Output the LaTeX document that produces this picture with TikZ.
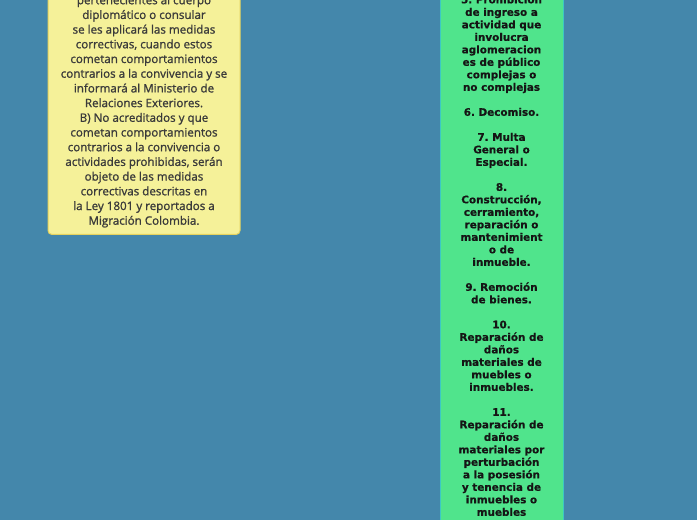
\documentclass[tikz,border=0pt]{standalone}
\usepackage{fontspec}
\newfontfamily\notafont[FakeBold=1.2]{Open Sans}
\newfontfamily\listafont[BoldFeatures={FakeBold=0.6}]{DejaVu Sans}
\definecolor{fondo}{HTML}{4487AB}
\definecolor{notafill}{HTML}{F5F199}
\definecolor{notaborde}{HTML}{E6D35E}
\definecolor{notatexto}{HTML}{3A3A3A}
\definecolor{listafill}{HTML}{50E48C}
\definecolor{listaborde}{HTML}{3CC8C4}
\definecolor{listatexto}{HTML}{151515}
\frenchspacing
\begin{document}
\begin{tikzpicture}[x=1pt,y=1pt,
	nota/.style={draw=notaborde,fill=notafill,line width=1pt,rounded corners=4pt,
		align=center,text=notatexto,minimum width=192pt,inner ysep=7pt,
		font=\notafont\fontsize{11.6}{14.7}\selectfont},
	lista/.style={draw=listaborde,fill=listafill,line width=1pt,
		align=center,text=listatexto,minimum width=123pt,inner ysep=8pt,
		font=\listafont\bfseries\fontsize{10.4}{12.5}\selectfont}]
	\useasboundingbox (0,0) rectangle (697,520);
	\clip (0,0) rectangle (697,520);
	\fill[fondo] (0,0) rectangle (697,520);
	
	\node[nota,anchor=south] (D) at (144,285) {pertenecientes al cuerpo\\
		diplomático o consular\\
		se les aplicará las medidas\\
		correctivas, cuando estos\\
		cometan comportamientos\\
		contrarios a la convivencia y se\\
		informará al Ministerio de\\
		Relaciones Exteriores.\\
		B) No acreditados y que\\
		cometan comportamientos\\
		contrarios a la convivencia o\\
		actividades prohibidas, serán\\
		objeto de las medidas\\
		correctivas descritas en\\
		la Ley 1801 y reportados a\\
		Migración Colombia.};
	
	\node[lista,anchor=north] (M) at (501.5,533.5) {5. Prohibición\\
		de ingreso a\\
		actividad que\\
		involucra\\
		aglomeracion\\
		es de público\\
		complejas o\\
		no complejas\\[12.5pt]
		6. Decomiso.\\[12.5pt]
		7. Multa\\
		General o\\
		Especial.\\[12.5pt]
		8.\\
		Construcción,\\
		cerramiento,\\
		reparación o\\
		mantenimient\\
		o de\\
		inmueble.\\[12.5pt]
		9. Remoción\\
		de bienes.\\[12.5pt]
		10.\\
		Reparación de\\
		daños\\
		materiales de\\
		muebles o\\
		inmuebles.\\[12.5pt]
		11.\\
		Reparación de\\
		daños\\
		materiales por\\
		perturbación\\
		a la posesión\\
		y tenencia de\\
		inmuebles o\\
		muebles};
\end{tikzpicture}
\end{document}
